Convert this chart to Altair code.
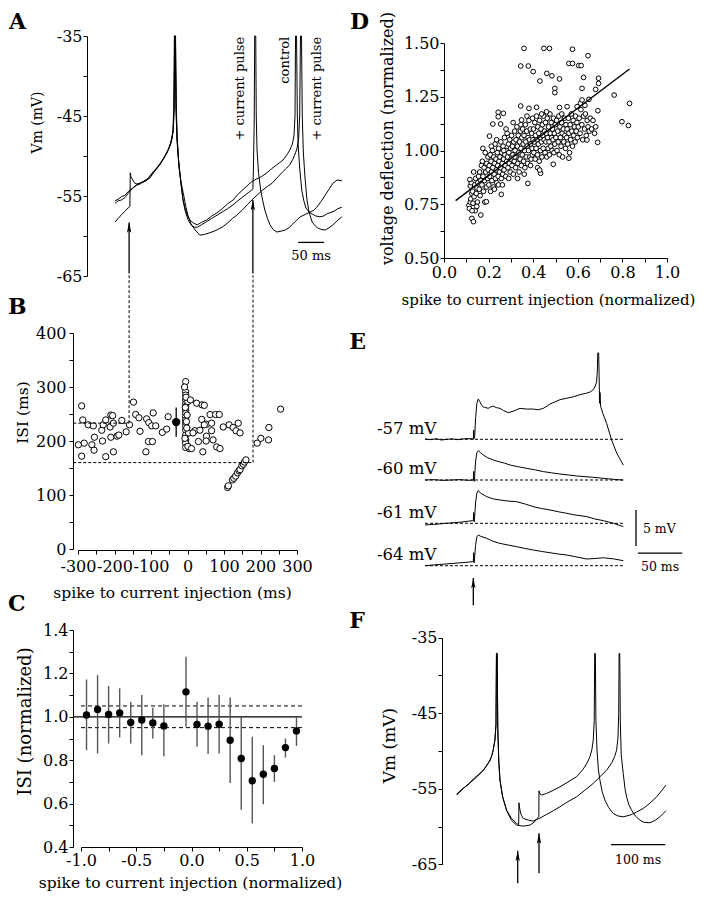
import altair as alt
import pandas as pd

FONT = "DejaVu Serif"
W, H = 693, 884

# ============================ DATA ============================
# --- A: membrane potential traces (time ms, Vm mV)
a_control = [(54,-55.9),(60,-55.6),(66,-55.5),(73,-55.2),(80,-54.6),(88,-54.0),(95,-53.7),(102,-53.4),
             (108,-53.3),(115,-53.0),(122,-52.4),(128,-52.0),(135,-51.4),(142,-50.8),(148,-50.2),(154,-49.6),
             (160,-48.6),(163,-48.0),(166,-46.8),(167.5,-44.0),(168.5,-35.0),(170,-35.0),(171.5,-44.0),
             (173,-47.5),(176,-50.5),(180,-53.0),(184,-55.2),(188,-56.4),(193,-57.4),(198,-58.0),(205,-58.4),
             (212,-58.6),(220,-58.3),(230,-58.0),(240,-57.5),(250,-57.1),(260,-56.6),(270,-56.0),(281,-55.5),
             (290,-54.8),(300,-54.2),(310,-53.6),(317,-53.2),(325,-52.9),(335,-52.6),(346,-52.1),(355,-51.6),
             (365,-51.1),(377,-50.5),(385,-49.8),(390,-49.25),(395,-48.5),(398,-47.5),(400,-45.0),(401,-35.0),
             (403,-35.0),(404.5,-45.0),(406,-48.5),(409,-51.5),(413,-54.25),(417,-55.6),(421,-56.5),(427,-57.0),
             (433,-57.25),(440,-57.5),(448,-57.6),(455,-57.5),(462,-57.2),(467,-57.1),(475,-56.9),(482,-56.6),
             (490,-56.4)]
a_pulse_early = [(54,-58.25),(60,-57.8),(67,-57.3),(73,-56.9),(79,-56.5),(82.5,-56.3),(83.2,-52.1),(84.5,-52.6),
                 (88,-53.0),(92,-53.4),(96,-53.5),(101,-53.4),(106,-53.25),(113,-53.1),(121,-52.75),(128,-52.1),
                 (134,-51.6),(140,-51.1),(147,-50.3),(152,-49.7),(156,-49.25),(161,-48.3),(165,-47.0),(167,-44.0),
                 (168,-35.0),(169.5,-35.0),(171,-44.0),(173,-48.0),(177,-51.5),(181,-53.3),(185,-54.6),(190,-56.3),
                 (194,-57.4),(200,-58.5),(208,-59.25),(217,-59.9),(226,-59.8),(236,-59.6),(248,-59.3),(260,-58.9),
                 (270,-58.4),(280,-57.8),(288,-57.4),(298,-56.8),(308,-56.1),(317,-55.5),(327,-54.9),(337,-54.3),
                 (347,-53.8),(356,-53.4),(366,-52.7),(376,-52.0),(384,-51.5),(390,-51.1),(396,-50.4),(401,-49.6),
                 (404,-49.0),(407,-47.8),(409,-45.0),(410.5,-35.0),(412.5,-35.0),(414,-45.0),(416,-49.5),(419,-52.5),
                 (423,-55.5),(427,-57.0),(433,-58.25),(440,-58.8),(444,-59.0),(451,-59.2),(458,-59.25),(465,-59.0),
                 (473,-58.6),(481,-58.1),(490,-57.6)]
a_pulse_late = [(54,-55.6),(60,-55.4),(66,-55.1),(73,-54.9),(80,-54.4),(88,-54.0),(95,-53.6),(102,-53.5),
                (108,-53.2),(115,-52.9),(122,-52.5),(128,-51.9),(135,-51.5),(142,-50.9),(148,-50.3),(154,-49.5),
                (160,-48.7),(163,-47.9),(166,-46.6),(167.5,-44.0),(168.8,-35.0),(170.3,-35.0),(171.8,-44.0),
                (173.5,-47.8),(176.5,-50.8),(180.5,-53.3),(184.5,-55.5),(189,-56.9),(194,-57.9),(200,-58.6),
                (206,-58.9),(212,-58.9),(220,-58.6),(230,-58.2),(240,-57.8),(250,-57.4),(260,-57.0),(270,-56.6),
                (281,-56.1),(290,-55.6),(300,-55.1),(310,-54.6),(317,-54.25),(319,-54.1),(320,-51.8),(321.5,-46.0),
                (322.5,-35.0),(324.5,-35.0),(325.5,-45.0),(327,-49.25),(330,-52.2),(334,-54.25),(338,-55.6),
                (342,-56.75),(347,-57.8),(352,-58.6),(358,-59.2),(365,-59.5),(373,-59.4),(381,-59.25),(388,-59.0),
                (394,-58.6),(402,-58.1),(410,-57.6),(420,-57.3),(429,-57.0),(436,-56.8),(442,-56.4),(450,-55.7),
                (458,-54.9),(466,-54.1),(473,-53.4),(481,-53.0),(490,-53.1)]
a_arrow_t = [81, 319]          # current-pulse times (ms)
a_arrow_tip = [-58.3, -55.5]   # arrow tip (mV)
a_notes = ["+ current pulse", "control", "+ current pulse"]
a_notes_t = [294, 380, 442]

# --- B: ISI vs spike-to-current-injection (ms)
b_points = [(-290,265),(-287,239),(-272,230),(-258,228),(-299,193),(-283,196),(-290,172),(-262,193),(-255,207),
            (-256,183),(-233,200),(-235,220),(-231,230),(-224,239),(-210,248),(-205,247),(-212,226),(-203,233),
            (-210,207),(-193,209),(-188,211),(-203,180),(-224,171),(-180,238),(-168,217),(-159,230),(-148,272),
            (-142,249),(-133,243),(-130,218),(-112,241),(-106,234),(-94,252),(-98,228),(-87,228),(-107,199),
            (-96,199),(-114,180),(-69,216),(-57,222),(-53,245),
            (-5,310),(-5,291),(-5,285),(-5,276),(-5,269),(-5,264),(-5,257),(-5,251),(-5,245),(-5,239),(-5,233),
            (-5,227),(-5,220),(-5,211),(-5,202),(-5,196),(-5,188),(1,273),(-3,236),(3,215),(5,186),(-8,300),
            (-4,281),(-6,262),(-2,224),(-7,205),(1,190),(8,276),(-1,248),
            (25,270),(40,267),(46,266),(20,219),(34,220),(39,240),(52,231),(46,230),(66,233),(62,249),(77,249),
            (87,249),(30,199),(42,180),(52,209),(51,200),(66,219),(70,202),(80,189),(89,186),(98,226),(114,230),
            (125,225),(139,233),(133,219),(144,215),(191,196),(201,205),(223,225),(222,202),(255,259),(11,186),
            (15,215),
            (110,114),(112,117),(123,128),(127,131),(132,135),(137,141),(141,145),(144,147),(149,154),(153,157),
            (156,161),(160,165)]
b_mean = [(-31, 235, 208, 262)]   # x, mean, low, high

# --- C: normalized ISI vs normalized timing (mean, lower, upper)
c_x = [-0.95,-0.85,-0.75,-0.65,-0.55,-0.45,-0.35,-0.25,-0.05,0.05,0.15,0.25,0.35,0.45,0.55,0.65,0.75,0.85,0.95]
c_mean = [1.008,1.034,1.011,1.018,0.974,0.985,0.972,0.958,1.115,0.965,0.957,0.966,0.892,0.808,0.705,0.735,0.762,0.858,0.935]
c_hi = [1.172,1.192,1.142,1.131,1.069,1.100,1.042,1.058,1.277,1.069,1.089,1.100,1.089,1.000,0.908,0.869,0.823,0.900,0.997]
c_lo = [0.846,0.831,0.877,0.905,0.877,0.823,0.900,0.818,0.954,0.862,0.828,0.831,0.695,0.572,0.508,0.597,0.700,0.812,0.866]
c_ref = [1.0, 1.05, 0.95]

# --- D: voltage deflection vs normalized timing
d_points = [
 (0.112,0.745),(0.118,0.76),(0.114,0.73),(0.12,0.775),(0.125,0.80),(0.118,0.835),(0.122,0.85),(0.116,0.865),
 (0.128,0.81),(0.13,0.755),(0.135,0.785),(0.14,0.72),(0.138,0.84),(0.145,0.80),(0.142,0.87),(0.148,0.825),
 (0.15,0.76),(0.126,0.72),(0.133,0.90),(0.147,0.74),
 (0.152,0.85),(0.155,0.88),(0.158,0.82),(0.16,0.90),(0.162,0.79),(0.165,0.86),(0.168,0.93),(0.17,0.84),
 (0.172,0.95),(0.175,0.88),(0.177,0.81),(0.18,0.92),(0.182,0.86),(0.185,0.99),(0.187,0.90),(0.19,0.83),
 (0.192,0.94),(0.195,0.87),(0.197,0.97),(0.174,1.01),(0.183,0.76),(0.198,0.91),
 (0.201,0.84),(0.203,0.93),(0.205,0.88),(0.207,0.98),(0.209,0.81),(0.211,0.95),(0.213,0.90),(0.215,0.86),
 (0.217,1.00),(0.219,0.92),(0.221,0.83),(0.223,0.97),(0.225,0.89),(0.227,0.94),(0.229,1.03),(0.231,0.87),
 (0.233,0.96),(0.235,0.91),(0.237,0.85),(0.239,0.99),(0.241,0.93),(0.243,0.88),(0.245,1.01),(0.247,0.95),
 (0.249,0.90),(0.226,0.82),(0.236,1.05),(0.244,0.84),(0.212,1.02),
 (0.251,0.97),(0.253,0.92),(0.255,1.04),(0.257,0.87),(0.259,0.99),(0.261,0.94),(0.263,0.89),(0.265,1.02),
 (0.267,0.96),(0.269,0.91),(0.271,1.06),(0.273,0.98),(0.275,0.93),(0.277,0.88),(0.279,1.00),(0.281,0.95),
 (0.283,1.08),(0.285,0.97),(0.287,0.92),(0.289,1.03),(0.291,0.99),(0.293,0.94),(0.295,1.05),(0.297,0.90),
 (0.299,1.01),(0.262,0.84),(0.278,1.10),(0.29,0.87),(0.268,1.00),
 (0.301,0.96),(0.303,1.07),(0.305,0.93),(0.307,1.02),(0.309,0.98),(0.311,0.89),(0.313,1.04),(0.315,0.95),
 (0.317,1.09),(0.319,1.00),(0.321,0.92),(0.323,1.05),(0.325,0.97),(0.327,1.11),(0.329,1.02),(0.331,0.94),
 (0.333,1.07),(0.335,0.99),(0.337,0.90),(0.339,1.04),(0.341,0.96),(0.343,1.09),(0.345,1.01),(0.347,0.93),
 (0.349,1.06),(0.31,1.13),(0.33,0.87),(0.345,1.12),(0.318,0.97),
 (0.351,0.98),(0.353,1.10),(0.355,1.03),(0.357,0.95),(0.359,1.07),(0.361,1.00),(0.363,0.92),(0.365,1.12),
 (0.367,1.04),(0.369,0.97),(0.371,1.09),(0.373,1.02),(0.375,0.94),(0.377,1.06),(0.379,1.00),(0.381,1.14),
 (0.383,1.05),(0.385,0.97),(0.387,1.10),(0.389,1.03),(0.391,0.96),(0.393,1.08),(0.395,1.01),(0.397,1.15),
 (0.399,1.05),(0.36,0.89),(0.372,1.16),(0.388,0.93),(0.396,0.98),
 (0.401,1.10),(0.403,0.99),(0.405,1.04),(0.407,1.13),(0.409,0.96),(0.411,1.07),(0.413,1.01),(0.415,1.16),
 (0.417,1.05),(0.419,0.98),(0.421,1.11),(0.423,1.03),(0.425,1.08),(0.427,0.95),(0.429,1.14),(0.431,1.06),
 (0.433,1.00),(0.435,1.10),(0.437,1.04),(0.439,0.97),(0.441,1.12),(0.443,1.07),(0.445,1.01),(0.447,1.16),
 (0.449,1.05),(0.42,0.92),(0.438,1.17),
 (0.451,1.09),(0.453,0.99),(0.455,1.13),(0.457,1.04),(0.459,1.08),(0.461,0.97),(0.463,1.15),(0.465,1.06),
 (0.467,1.01),(0.469,1.11),(0.471,1.04),(0.473,0.98),(0.475,1.17),(0.477,1.08),(0.479,1.02),(0.481,1.13),
 (0.483,1.06),(0.485,1.00),(0.487,1.10),(0.489,1.05),(0.491,1.15),(0.493,0.99),(0.495,1.08),(0.497,1.03),
 (0.499,1.12),(0.46,1.18),
 (0.502,1.06),(0.505,1.14),(0.507,1.00),(0.51,1.09),(0.512,1.04),(0.515,1.16),(0.517,0.98),(0.52,1.11),
 (0.522,1.06),(0.525,1.02),(0.527,1.13),(0.53,1.08),(0.532,0.97),(0.535,1.10),(0.537,1.04),(0.54,1.15),
 (0.542,1.07),(0.545,1.01),(0.547,1.12),(0.55,1.06),(0.528,1.17),(0.518,1.20),
 (0.552,1.10),(0.555,1.03),(0.558,1.15),(0.56,1.08),(0.563,0.99),(0.566,1.12),(0.568,1.05),(0.571,1.17),
 (0.573,1.09),(0.576,1.02),(0.579,1.14),(0.582,1.07),(0.585,1.11),(0.588,1.04),(0.59,1.16),(0.593,1.09),
 (0.596,1.13),(0.598,1.06),
 (0.602,1.11),(0.606,1.15),(0.61,1.08),(0.614,1.19),(0.618,1.12),(0.622,1.05),(0.626,1.16),(0.63,1.10),
 (0.634,1.17),(0.638,1.07),(0.642,1.14),(0.646,1.11),(0.651,1.09),(0.656,1.15),(0.662,1.10),(0.668,1.14),
 (0.675,1.08),(0.68,1.11),(0.612,1.22),(0.632,1.21),
 # outliers
 (0.359,1.475),(0.448,1.475),(0.473,1.475),(0.576,1.471),(0.646,1.441),(0.344,1.393),(0.378,1.393),
 (0.400,1.367),(0.461,1.359),(0.484,1.347),(0.430,1.323),(0.560,1.405),(0.576,1.405),(0.604,1.395),
 (0.615,1.395),(0.518,1.333),(0.626,1.340),(0.693,1.336),(0.693,1.312),(0.680,1.284),(0.619,1.289),
 (0.497,1.289),(0.497,1.269),(0.763,1.258),(0.832,1.219),(0.798,1.134),(0.827,1.116),(0.690,1.185),
 (0.641,1.049),(0.689,1.038),(0.560,0.964),(0.490,0.936),(0.376,0.847),(0.433,0.894),(0.429,0.909),
 (0.165,0.700),(0.125,0.684),(0.132,0.669),(0.190,0.762),(0.257,0.796),(0.243,1.178),(0.243,1.157),
 (0.266,1.173),(0.219,1.123),(0.254,1.123),(0.204,1.067),(0.344,1.207),(0.381,1.196),(0.415,1.201),
 (0.348,1.142),(0.552,1.204),(0.619,1.235),(0.650,1.238),(0.597,1.204)]
d_fit = [(0.052, 0.767), (0.832, 1.379)]

# --- E: responses to current pulse at four holding potentials (ms from pulse, mV above baseline)
e_levels = [-57, -60, -61, -64]
e_57 = [(-54.5,0.05),(-48,-0.05),(-42,0.08),(-36,-0.1),(-30,0.0),(-24,0.06),(-18,-0.05),(-12,0.05),(-6,0.1),
        (-1,0.05),(0,0.0),(0.4,1.3),(0.9,0.1),(1.5,0.4),(2.6,3.0),(4,5.0),(5.6,5.6),(7.5,5.2),(9.5,4.7),
        (11.3,4.5),(14,4.4),(16.9,4.3),(19.5,4.5),(22.5,4.6),(26,4.4),(30,4.3),(34,4.0),(39.4,3.7),(45,3.9),
        (52.6,4.3),(60,4.2),(67.6,4.2),(73,4.1),(78.9,4.3),(83,4.6),(86.4,4.9),(92,5.2),(97.7,5.5),(105,5.7),
        (112.7,5.9),(120,6.2),(127.7,6.4),(132,6.6),(135.3,6.9),(137.5,7.4),(139,8.0),(139.8,9.5),(140.3,12.0),
        (141.3,12.0),(141.8,9.0),(142.3,5.0),(142.8,6.5),(143.5,4.6),(146,3.6),(150.3,2.2),(155.9,-0.1),
        (161.6,-1.9),(169.1,-3.6)]
e_60 = [(-54.5,0.0),(-45,0.05),(-35,-0.05),(-25,0.0),(-15,0.05),(-5,-0.05),(-1,0.0),(0,0.0),(0.4,1.2),
        (0.9,-0.2),(1.5,0.5),(2.5,2.5),(4,3.8),(5.6,4.07),(8,3.8),(11.3,3.47),(16,3.1),(22.5,2.78),(30,2.5),
        (35,2.35),(41.4,2.08),(50,1.85),(60.2,1.62),(70,1.4),(79,1.16),(88,1.0),(97.7,0.83),(107,0.7),
        (116.5,0.56),(126,0.47),(135.3,0.37),(145,0.25),(154.1,0.14),(162,0.05),(169.1,0.0)]
e_61 = [(-54.5,-0.23),(-45,-0.15),(-35,-0.05),(-25,0.05),(-15,0.15),(-5,0.3),(-1,0.37),(0,0.37),(0.4,1.5),
        (0.9,0.2),(1.5,0.9),(2.5,2.8),(4,4.2),(5.6,4.54),(8,4.2),(15.1,3.7),(22,3.4),(30,3.24),(38,3.1),
        (48.8,3.0),(58,2.7),(67.6,2.31),(77,2.05),(86.4,1.85),(96,1.6),(105.2,1.39),(115,1.15),(127.7,0.93),
        (137,0.6),(146.5,0.37),(158,0.0),(169.1,-0.46)]
e_64 = [(-54.5,0.0),(-45,0.1),(-35,0.2),(-25,0.3),(-15,0.4),(-5,0.5),(-1,0.56),(0,0.56),(0.4,1.8),(0.9,0.4),
        (1.5,1.2),(2.5,2.8),(4,4.0),(5.6,4.26),(8,4.1),(15.1,3.8),(22,3.4),(30,3.1),(40,2.85),(48.8,2.64),
        (58,2.4),(67.6,2.18),(77,1.98),(86.4,1.8),(96,1.62),(105.2,1.48),(115,1.25),(127.7,0.93),(137,1.0),
        (146.5,1.1),(158,0.95),(169.1,0.7)]
e_traces = [e_57, e_60, e_61, e_64]

# --- F: two traces with pulses at different phases (ms, mV)
f_pre_1 = [(27,-55.84),(33,-55.4),(39.3,-54.96),(48,-54.4),(57.6,-53.85),(66,-53.3),(76,-52.53),(82,-52.0),
           (88.3,-51.2),(92,-50.6),(94.4,-49.88),(97.5,-48.55),(99.4,-46.5),(100.2,-37.08),(101.4,-37.08),
           (102.6,-47.0),(104.5,-51.5),(106.7,-53.85),(111.6,-56.06),(118.9,-57.83)]
f_trace_1 = f_pre_1 + [(128.1,-58.93),(137.3,-59.59),(141.2,-59.75),(141.6,-56.85),(143.5,-57.8),(146,-58.5),
           (149.6,-58.93),(158.8,-59.15),(168,-59.28),(178.5,-58.95),(192.6,-58.4),(205,-57.9),(217.2,-57.38),
           (232,-56.7),(247.9,-56.06),(263,-55.2),(278.5,-54.29),(291,-53.4),(303.3,-52.53),(313,-51.5),
           (318,-50.7),(321.5,-49.88),(324,-48.3),(325.4,-45.0),(326.1,-37.08),(327.3,-37.08),(328.3,-46.0),
           (330,-50.5),(333.7,-52.97),(337,-55.0),(339.8,-56.06),(344,-57.1),(349.1,-57.83),(356,-58.6),
           (364.4,-59.15),(372,-59.45),(382.9,-59.5),(392,-59.2),(401.3,-58.71),(407,-58.3),(412.3,-57.91)]
f_trace_2 = [(27,-55.7),(33,-55.3),(39.3,-54.9),(48,-54.5),(57.6,-53.7),(66,-53.2),(76,-52.6),(82,-51.9),
           (88.3,-51.3),(92,-50.5),(94.4,-49.8),(97.5,-48.5),(99.4,-46.5),(100.4,-37.08),(101.6,-37.08),
           (102.8,-47.0),(104.7,-51.5),(106.9,-53.9),(111.8,-56.1),(119,-57.9),
           (128.1,-59.2),(137.3,-59.81),(149.6,-59.95),(161.9,-59.81),(170,-59.4),(174.2,-59.0),(178.3,-58.71),
           (178.6,-55.27),(180.5,-55.7),(183.4,-55.84),(192.6,-55.62),(205,-55.2),(217.2,-54.74),(232,-54.1),
           (247.9,-53.41),(260,-52.4),(267,-51.6),(272.4,-50.76),(276,-49.8),(278.5,-48.55),(280.3,-46.0),
           (281.2,-37.08),(282.4,-37.08),(283.4,-46.0),(285.5,-50.0),(288,-52.5),(290.8,-53.85),(295,-55.4),
           (300,-56.5),(307,-57.5),(315.3,-58.27),(324,-58.6),(333.7,-58.71),(340,-58.6),(346,-58.49),
           (358,-58.1),(370.6,-57.6),(383,-56.9),(395.2,-56.06),(404,-55.3),(412.3,-54.51)]
f_arrow_t = [139.4, 178.6]
f_arrow_tip = [-63.2, -60.9]
f_arrow_end = [-67.5, -66.2]

# ============================ LAYOUT ============================
def lin(dom, p0, p1):
    # p0/p1 are page pixel positions; chart origin sits at the 8 px page margin
    return alt.Scale(domain=dom, range=[p0 - 8, p1 - 8], nice=False, zero=False)

SC = {
    "A": (lin([0, 500], 87, 347), lin([-65, -35], 276, 36)),
    "B": (lin([-300, 300], 78, 297), lin([0, 400], 549, 333)),
    "C": (lin([-1, 1], 81, 302), lin([0.4, 1.4], 847, 630)),
    "D": (lin([0, 1], 444, 667), lin([0.5, 1.5], 258, 43)),
    "F": (lin([0, 420], 442, 670.1), lin([-65, -35], 864.3, 637.7)),
}
E_BASE_PX = {-57: 439.3, -60: 480.0, -61: 523.3, -64: 565.7}
E_X = lin([-60, 180], 420.1, 633.0)
for lev, pb in E_BASE_PX.items():
    SC[f"E{lev}"] = (E_X, lin([lev - 5, lev + 12], pb + 36, pb - 86.4))

AX_STYLE = dict(labelFont=FONT, labelFontSize=16, labelColor="black", titleFont=FONT,
                titleFontWeight="normal", titleColor="black", tickColor="black", domainColor="black",
                tickSize=4, tickWidth=1, domainWidth=1, grid=False, labelFlush=False,
                labelOverlap=False, labelBound=False, titleAlign="center", titleBaseline="middle")


def y_axis(page_x, values, expr, title, tsize, tcx, tcy, pad=1):
    return alt.Axis(orient="left", offset=-(page_x - 8), values=values, labelExpr=expr, title=title,
                    titleFontSize=tsize, titleX=tcx - page_x, titleY=tcy - 8, titleAngle=270,
                    labelPadding=pad, **AX_STYLE)


def x_axis(page_y, values, expr, title, tsize, tcx, tcy, pad=2):
    return alt.Axis(orient="bottom", offset=(page_y - 8) - H, values=values, labelExpr=expr, title=title,
                    titleFontSize=tsize, titleX=tcx - 8, titleY=tcy - page_y, labelPadding=pad, **AX_STYLE)


def enc(panel, x, y, x2=None, y2=None, xaxis=None, yaxis=None):
    sx, sy = SC[panel]
    e = {"x": alt.X(x, type="quantitative", scale=sx, axis=xaxis),
         "y": alt.Y(y, type="quantitative", scale=sy, axis=yaxis)}
    if x2:
        e["x2"] = alt.X2(x2)
    if y2:
        e["y2"] = alt.Y2(y2)
    return e


def tdf(pts):
    return pd.DataFrame({"t": [p[0] for p in pts], "v": [p[1] for p in pts], "i": list(range(len(pts)))})


def trace(pts, panel, yaxis=None, width=1.0):
    return alt.Chart(tdf(pts)).mark_line(color="black", strokeWidth=width).encode(
        order="i:Q", **enc(panel, "t", "v", yaxis=yaxis))


def text_layer(panel, xs, ys, labels, **mk):
    df = pd.DataFrame({"x": xs, "y": ys, "label": labels})
    return alt.Chart(df).mark_text(font=FONT, color="black", **mk).encode(text="label:N", **enc(panel, "x", "y"))


def rule_layer(panel, df, dash=None, color="black", width=1.0):
    kw = dict(color=color, strokeWidth=width)
    if dash:
        kw["strokeDash"] = dash
    return alt.Chart(df).mark_rule(**kw).encode(**enc(panel, "x", "y", x2="x2", y2="y2"))


ARROW = "M0,-1L0.42,1L0,0.55L-0.42,1Z"


def arrowheads(panel, xs, ys):
    df = pd.DataFrame({"x": xs, "y": ys})
    return alt.Chart(df).mark_point(shape=ARROW, filled=True, color="black", size=110, yOffset=5.2,
                                    strokeWidth=0, opacity=1).encode(**enc(panel, "x", "y"))


def letter(panel, x, y, s):
    # panel letter, anchored at its top-left corner
    return text_layer(panel, [x], [y], [s], fontSize=22, fontWeight="bold", align="left", baseline="top")


L = []

# ---------------- Panel A ----------------
vm_vals = [-65, -60, -55, -50, -45, -40, -35]
vm_expr = "(datum.value + 35) % 10 == 0 ? '-' + abs(datum.value) : ''"
L.append(trace(a_control, "A", yaxis=y_axis(87, vm_vals, vm_expr, "Vm (mV)", 14, 37, 122)))
L.append(trace(a_pulse_early, "A"))
L.append(trace(a_pulse_late, "A"))
L.append(rule_layer("A", pd.DataFrame({"x": a_arrow_t, "x2": a_arrow_t, "y": a_arrow_tip, "y2": [-64.7, -64.7]}),
                    width=1.3))
L.append(arrowheads("A", a_arrow_t, a_arrow_tip))
L.append(text_layer("A", a_notes_t, [-35.1] * 3, a_notes, fontSize=13, angle=270, align="right",
                    baseline="middle"))
L.append(rule_layer("A", pd.DataFrame({"x": [406], "x2": [456], "y": [-60.8], "y2": [-60.8]}), width=1.3))
L.append(text_layer("A", [431], [-62.5], ["50 ms"], fontSize=13, align="center", baseline="middle"))
L.append(letter("A", -150, -32.0, "A"))

# ---------------- Panel B ----------------
bdf = pd.DataFrame({"x": [p[0] for p in b_points], "y": [p[1] for p in b_points]})
b_y_vals = list(range(0, 401, 50))
b_x_vals = list(range(-300, 301, 50))
L.append(alt.Chart(bdf).mark_point(shape="circle", filled=True, fill="white", stroke="black", strokeWidth=1,
                                   size=40, opacity=1).encode(
    **enc("B", "x", "y",
          xaxis=x_axis(550, b_x_vals,
                       "datum.value % 100 == 0 ? (datum.value < 0 ? '-' : '') + abs(datum.value) : ''",
                       "spike to current injection (ms)", 15.5, 172, 592, pad=4),
          yaxis=y_axis(73, b_y_vals, "datum.value % 100 == 0 ? '' + datum.value : ''", "ISI (ms)", 15.5,
                       22, 412, pad=3))))
bm = pd.DataFrame({"x": [m[0] for m in b_mean], "y": [m[2] for m in b_mean], "x2": [m[0] for m in b_mean],
                   "y2": [m[3] for m in b_mean], "m": [m[1] for m in b_mean]})
L.append(rule_layer("B", bm, width=1.3))
L.append(alt.Chart(bm).mark_point(shape="circle", filled=True, color="black", size=70, opacity=1).encode(
    **enc("B", "x", "m")))
# dashed guide lines linking A to B
b_guides = pd.DataFrame({"x": [-160, 179.5, -313, -313], "x2": [-160, 179.5, -160, 179.5],
                         "y": [233, 160, 233, 160], "y2": [507, 507, 233, 160]})
L.append(rule_layer("B", b_guides, dash=[3, 2], width=1))
L.append(letter("B", -492, 466, "B"))

# ---------------- Panel C ----------------
cdf = pd.DataFrame({"x": c_x, "y": c_lo, "x2": c_x, "y2": c_hi, "m": c_mean})
c_lines = pd.DataFrame({"x": [-1.07], "x2": [1.0], "y": [c_ref[0]], "y2": [c_ref[0]]})
c_dash = pd.DataFrame({"x": [-1.0, -1.0], "x2": [1.0, 1.0], "y": c_ref[1:], "y2": c_ref[1:]})
L.append(rule_layer("C", c_lines, width=1.3))
L.append(rule_layer("C", c_dash, dash=[4, 3], width=1))
L.append(rule_layer("C", cdf, color="#555555", width=1.4))
c_y_vals = [0.4, 0.5, 0.6, 0.7, 0.8, 0.9, 1.0, 1.1, 1.2, 1.3, 1.4]
c_x_vals = [-1.0, -0.75, -0.5, -0.25, 0.0, 0.25, 0.5, 0.75, 1.0]
L.append(alt.Chart(cdf).mark_point(shape="circle", filled=True, color="black", size=55, opacity=1).encode(
    **enc("C", "x", "m",
          xaxis=x_axis(847, c_x_vals,
                       "round(datum.value * 4) % 2 == 0 ? (datum.value < 0 ? '-' : '') + format(abs(datum.value), '.1f') : ''",
                       "spike to current injection (normalized)", 15.5, 190, 882, pad=1),
          yaxis=y_axis(73, c_y_vals, "round(datum.value * 10) % 2 == 0 ? format(datum.value, '.1f') : ''",
                       "ISI (normalized)", 18, 25, 721))))
L.append(letter("C", -1.66, 1.566, "C"))

# ---------------- Panel D ----------------
ddf = pd.DataFrame({"x": [p[0] for p in d_points], "y": [p[1] for p in d_points]})
d_y_vals = [0.5, 0.625, 0.75, 0.875, 1.0, 1.125, 1.25, 1.375, 1.5]
d_x_vals = [0.0, 0.1, 0.2, 0.3, 0.4, 0.5, 0.6, 0.7, 0.8, 0.9, 1.0]
L.append(alt.Chart(ddf).mark_point(shape="circle", filled=True, fill="white", stroke="black", strokeWidth=1,
                                   size=22, opacity=1).encode(
    **enc("D", "x", "y",
          xaxis=x_axis(258, d_x_vals, "round(datum.value * 10) % 2 == 0 ? format(datum.value, '.1f') : ''",
                       "spike to current injection (normalized)", 15, 548, 299),
          yaxis=y_axis(444, d_y_vals, "round(datum.value * 8) % 2 == 0 ? format(datum.value, '.2f') : ''",
                       "voltage deflection (normalized)", 16, 387, 138))))
L.append(alt.Chart(tdf(d_fit)).mark_line(color="black", strokeWidth=1.4).encode(order="i:Q",
                                                                               **enc("D", "t", "v")))
L.append(letter("D", -0.422, 1.644, "D"))

# ---------------- Panel E ----------------
for lev, pts in zip(e_levels, e_traces):
    panel = f"E{lev}"
    L.append(trace([(t, lev + dv) for t, dv in pts], panel))
    L.append(rule_layer(panel, pd.DataFrame({"x": [-54.5], "x2": [169.1], "y": [lev], "y2": [lev]}),
                        dash=[3, 2], width=1))
    L.append(text_layer(panel, [-108.6], [lev + 1.5], [f"{lev} mV"], fontSize=16.5, align="left",
                        baseline="middle"))
# scale bars + arrow (in the -64 mV trace coordinates)
L.append(rule_layer("E-64", pd.DataFrame({"x": [183.4, 185.5], "x2": [183.4, 235.5],
                                          "y": [-61.26, -62.24], "y2": [-56.26, -62.24]}), width=1.3))
L.append(text_layer("E-64", [191.2], [-58.9], ["5 mV"], fontSize=12.5, align="left", baseline="middle"))
L.append(text_layer("E-64", [210.5], [-64.2], ["50 ms"], fontSize=12.5, align="center", baseline="middle"))
L.append(rule_layer("E-64", pd.DataFrame({"x": [0], "x2": [0], "y": [-65.7], "y2": [-69.5]}), width=1.3))
L.append(arrowheads("E-64", [0], [-65.7]))
L.append(letter("E-57", -140, -42.1, "E"))

# ---------------- Panel F ----------------
L.append(trace(f_trace_1, "F", yaxis=y_axis(442, vm_vals, vm_expr, "Vm (mV)", 17, 389, 745)))
L.append(trace(f_trace_2, "F"))
L.append(rule_layer("F", pd.DataFrame({"x": f_arrow_t, "x2": f_arrow_t, "y": f_arrow_tip, "y2": f_arrow_end}),
                    width=1.3))
L.append(arrowheads("F", f_arrow_t, f_arrow_tip))
L.append(rule_layer("F", pd.DataFrame({"x": [311], "x2": [411], "y": [-62.4], "y2": [-62.4]}), width=1.3))
L.append(text_layer("F", [361], [-64.4], ["100 ms"], fontSize=12.5, align="center", baseline="middle"))
L.append(letter("F", -171, -31.5, "F"))

chart = alt.layer(*L).resolve_scale(x="independent", y="independent").properties(
    width=W, height=H, padding=0, autosize=alt.AutoSizeParams(type="none"),
    background="white").configure_view(stroke=None)

chart.save("out.html", embed_options={"renderer": "svg", "actions": False})
